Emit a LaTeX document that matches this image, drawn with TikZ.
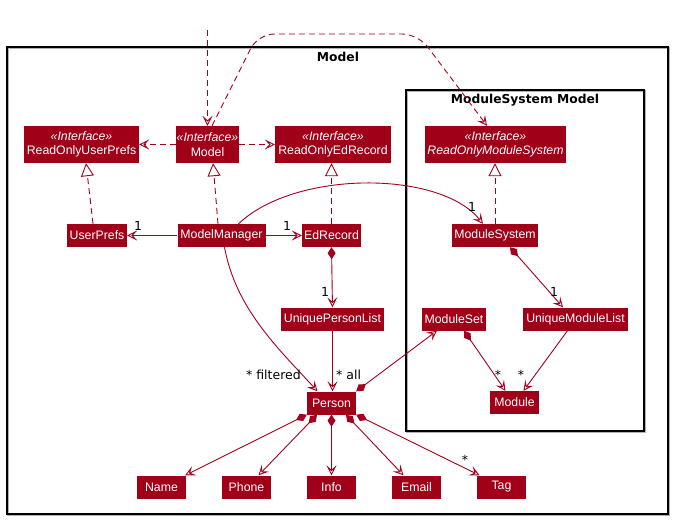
\documentclass[tikz,border=0pt]{standalone}
\usepackage{fontspec}
\setmainfont{Liberation Sans}
\newfontfamily\djv{DejaVu Sans}
\usetikzlibrary{arrows.meta}
\definecolor{boxred}{HTML}{A00018}
\definecolor{linered}{HTML}{A2001C}
\tikzset{
  cls/.style={fill=boxred, draw=none, text=white, inner sep=0pt, minimum height=23pt, font=\fontsize{12.3}{13}\selectfont},
  iface/.style={cls, minimum height=37pt, align=center, font=\fontsize{12.3}{14.5}\selectfont},
  frame/.style={draw=black, line width=1.1pt},
  fshadow/.style={draw=black!30, line width=1.1pt},
  ftitle/.style={font=\djv\bfseries\fontsize{12.3}{14}\selectfont},
  mult/.style={font=\djv\fontsize{12.5}{13}\selectfont, inner sep=0pt},
  tip/.style={},
  assoc/.style={draw=linered, line width=0.9pt, -{Stealth[open, length=10pt, width=10pt, inset=4.5pt]}},
  comp/.style={draw=linered, line width=0.9pt, {Diamond[length=12pt, width=8pt]}-{Stealth[open, length=10pt, width=10pt, inset=4.5pt]}},
  dep/.style={assoc, dash pattern=on 6pt off 4pt},
  real/.style={draw=linered, line width=0.9pt, dash pattern=on 6pt off 4pt, -{Triangle[open, length=13pt, width=13pt]}},
}
\begin{document}
\begin{tikzpicture}[x=1pt, y=-1pt]
\useasboundingbox (0,0) rectangle (673,520);
% frames
\draw[fshadow] (8,48) rectangle (669,515);
\draw[frame] (7,47) rectangle (668,514);
\node[ftitle] (tmodel) at (338,57) {Model};
\draw[fshadow] (407,91) rectangle (645,432);
\draw[frame] (406,90) rectangle (644,431);
\node[ftitle] (tms) at (525,100) {ModuleSystem Model};
% interfaces
\node[iface, minimum width=115pt] (rup) at (81.5,144.5) {\itshape «Interface»\\ReadOnlyUserPrefs};
\node[iface, minimum width=63pt] (model) at (207.5,144.5) {\itshape «Interface»\\Model};
\node[iface, minimum width=116pt] (roe) at (333,144.5) {\itshape «Interface»\\ReadOnlyEdRecord};
\node[iface, minimum width=141pt] (roms) at (495.5,144.5) {\itshape «Interface»\\\itshape ReadOnlyModuleSystem};
% classes
\node[cls, minimum width=60pt] (userprefs) at (97,235.5) {UserPrefs};
\node[cls, minimum width=88pt] (mm) at (221.5,235.5) {ModelManager};
\node[cls, minimum width=59pt] (edrec) at (331.5,235.5) {EdRecord};
\node[cls, minimum width=86pt] (modsys) at (495,235.5) {ModuleSystem};
\node[cls, minimum width=103pt] (upl) at (332.5,319) {UniquePersonList};
\node[cls, minimum width=64pt] (moduleset) at (454,319) {ModuleSet};
\node[cls, minimum width=105pt] (uml) at (575.5,319) {UniqueModuleList};
\node[cls, minimum width=49pt] (person) at (331.5,403) {Person};
\node[cls, minimum width=49pt] (module) at (514.5,402.5) {Module};
\node[cls, minimum width=49pt] (name) at (161.5,487) {Name};
\node[cls, minimum width=49pt] (phone) at (246.5,487) {Phone};
\node[cls, minimum width=49pt] (info) at (331.5,487) {Info};
\node[cls, minimum width=49pt] (email) at (416.5,487) {Email};
\node[cls, minimum width=49pt] (tag) at (501.5,487) {Tag};
% dependencies
\coordinate (topin) at (207.5,30);
\draw[dep] (topin) -- (model.north);
\draw[dep, rounded corners=16pt] ([xshift=4.5pt]model.north) -- (258,34) -- (418,34) -- ([xshift=-8.5pt]roms.north);
\draw[dep] (model.west) -- (rup.east);
\draw[dep] (model.east) -- (roe.west);
% realizations
\draw[real] ([xshift=-4pt]userprefs.north) -- ([xshift=4.5pt]rup.south);
\draw[real] ([xshift=-3.5pt]mm.north) -- ([xshift=5.5pt]model.south);
\draw[real] (edrec.north) -- (edrec.north |- roe.south);
\draw[real] (modsys.north) -- (modsys.north |- roms.south);
% associations
\draw[assoc] (mm.west) -- (userprefs.east);
\node[mult] (l1) at (138,226) {1};
\draw[assoc] (mm.east) -- (edrec.west);
\node[mult] (l2) at (287,226) {1};
\draw[assoc] ([xshift=17pt]mm.north) .. controls (295,170) and (440,170) .. ([xshift=-12pt]modsys.north);
\node[mult] (l3) at (472,207) {1};
\draw[assoc] ([xshift=3pt]mm.south) .. controls (236,310) and (280,350) .. ([xshift=-14pt]person.north);
\node[mult, anchor=east] (l4) at (301,375) {* filtered};
\draw[comp] (edrec.south) -- (upl.north);
\node[mult] (l5) at (325,292) {1};
\draw[assoc] (upl.south) -- (upl.south |- person.north);
\node[mult, anchor=west] (l6) at (336,375) {* all};
\draw[comp] (person.north east) -- ([xshift=-17pt]moduleset.south);
\draw[comp] ([xshift=15pt]modsys.south) -- ([xshift=-12.5pt]uml.north);
\node[mult] (l7) at (554,292) {1};
\draw[comp] ([xshift=10pt]moduleset.south) -- ([xshift=-9pt]module.north);
\node[mult] (l8) at (498,375) {*};
\draw[assoc] ([xshift=-8pt]uml.south) -- ([xshift=9pt]module.north);
\node[mult] (l9) at (521,375) {*};
% person attributes
\draw[comp] (person.south west) -- ([xshift=-1pt]name.north east);
\draw[comp] ([xshift=-14.5pt]person.south) -- ([xshift=12pt]phone.north);
\draw[comp] (person.south) -- (info.north);
\draw[comp] ([xshift=14.5pt]person.south) -- ([xshift=-13pt]email.north);
\draw[comp] (person.south east) -- ([xshift=-22pt]tag.north);
\node[mult] (l10) at (465,460) {*};
\end{tikzpicture}
\end{document}
